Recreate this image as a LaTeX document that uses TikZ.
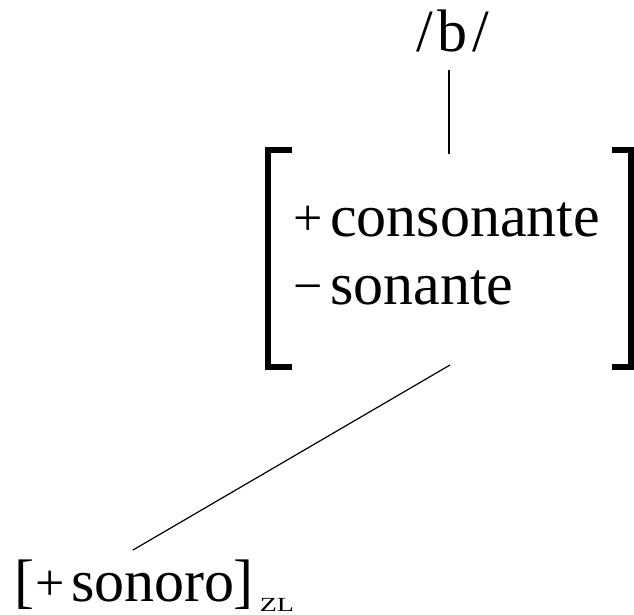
\documentclass[tikz,border=0pt]{standalone}
\usepackage{fontspec}
\setmainfont{Liberation Serif}
\newcommand{\smsign}[1]{{\fontsize{52}{52}\selectfont\raisebox{1pt}{#1}}}
\begin{document}
\begin{tikzpicture}[x=1pt,y=-1pt,
  lbl/.style={inner sep=0pt,outer sep=0pt,font=\fontsize{60}{72}\selectfont},
  brk/.style={line width=6pt,line cap=butt,line join=miter},
  conn/.style={line width=1.2pt}]
\useasboundingbox (0,0) rectangle (634,615);
% top phoneme
\node[lbl,anchor=base] (b) at (453,52) {/\kern5pt b\kern5pt/};
% feature bundle
\node[inner sep=0pt,minimum width=363pt,minimum height=217pt] (feat) at (449.5,258.5) {};
\draw[brk] (292,150) -- (268,150) -- (268,367) -- (292,367);
\draw[brk] (612,150) -- (631,150) -- (631,367) -- (612,367);
\node[lbl,anchor=base west] (f1) at (293,236) {\smsign{+}\hspace{8pt}consonante};
\node[lbl,anchor=base west] (f2) at (293,304) {\smsign{\char"2212}\hspace{8pt}sonante};
% bottom feature
\node[lbl,anchor=base west] (son) at (14,601) {[\kern2pt\smsign{+}\hspace{6pt}sonoro\kern-1pt]};
\node[inner sep=0pt,anchor=base west,font=\fontsize{20}{24}\selectfont] (zl) at ([xshift=6pt,yshift=-10pt]son.base east) {\scalebox{1.4}[1]{ZL}};
% connectors
\coordinate (bfoot) at (449,70);
\coordinate (ftop) at (449,154);
\coordinate (fbot) at (450,365);
\coordinate (stop) at (133,550);
\draw[conn] (bfoot) -- (ftop);
\draw[conn] (fbot) -- (stop);
\end{tikzpicture}
\end{document}
